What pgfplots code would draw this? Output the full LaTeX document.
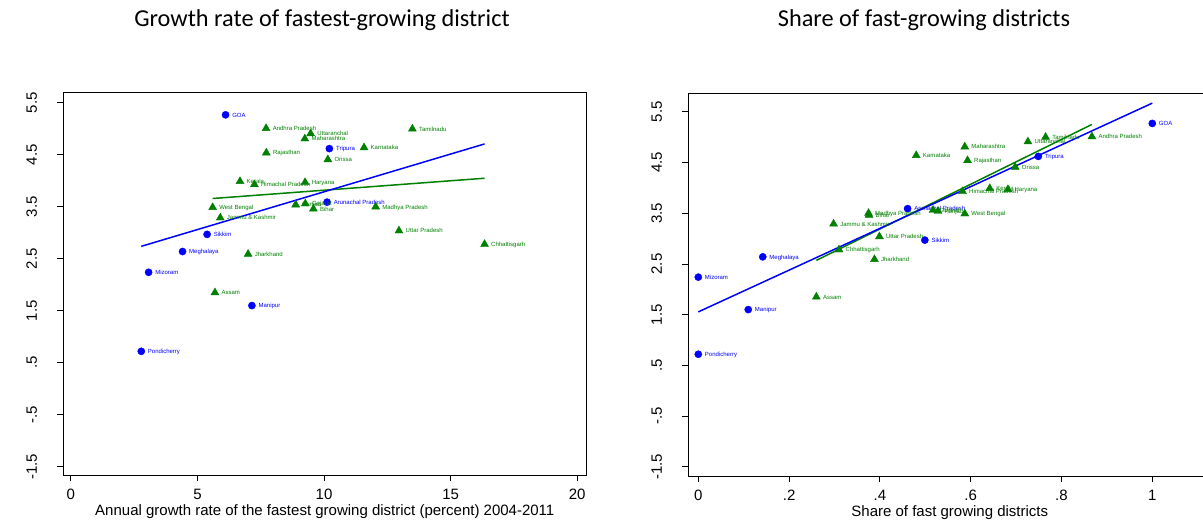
\documentclass[border=0pt]{standalone}
\usepackage{pgfplots}
\pgfplotsset{compat=1.18}
\usepackage{fontspec}
\setmainfont{Liberation Sans}
\newfontfamily\titlefont{Carlito}
\definecolor{sblue}{RGB}{0,0,255}
\definecolor{sgreen}{RGB}{0,128,0}
\pgfplotsset{
  stata/.style={
    scale only axis, width=523pt, height=382.5pt, anchor=south west,
    axis line style={line width=0.8pt, black},
    tick align=outside, xtick pos=bottom, ytick pos=left,
    major tick length=6pt,
    every tick/.style={black, line width=0.8pt},
    tick label style={font=\fontsize{15}{15}\selectfont},
    /pgf/number format/assume math mode=true,
    ytick={-1.5,-0.5,0.5,1.5,2.5,3.5,4.5,5.5},
    yticklabels={-1.5,-.5,.5,1.5,2.5,3.5,4.5,5.5},
    yticklabel style={rotate=90, anchor=base},
    xticklabel style={anchor=base},
    yticklabel shift=20.5pt,
    xticklabel shift=19pt,
    xlabel style={font=\fontsize{15}{15}\selectfont, at={(axis description cs:0.5,0)}, anchor=base, yshift=-41pt},
  },
  bpts/.style={only marks, mark=*, mark size=3.6pt, color=sblue,
    point meta=explicit symbolic, nodes near coords,
    every node near coord/.append style={anchor=base west, inner sep=0pt, xshift=6.5pt, yshift=-2.2pt, font=\fontsize{6}{6}\selectfont, text=sblue}},
  gpts/.style={only marks, mark=triangle*, mark size=4.6pt, color=sgreen,
    point meta=explicit symbolic, nodes near coords,
    every node near coord/.append style={anchor=base west, inner sep=0pt, xshift=6.5pt, yshift=-2.2pt, font=\fontsize{6}{6}\selectfont, text=sgreen}},
  bfit/.style={sblue, line width=1.5pt, no marks},
  gfit/.style={sgreen, line width=1.5pt, no marks},
}
\begin{document}
\begin{tikzpicture}
\useasboundingbox (0,0) rectangle (1203pt,524pt);
\clip (0,0) rectangle (1203pt,524pt);
% ---------------- left panel
\begin{axis}[stata, at={(63.3pt,49pt)},
  xmin=-0.30, xmax=20.36, ymin=-1.66, ymax=5.70,
  xtick={0,5,10,15,20},
  xlabel={Annual growth rate of the fastest growing district (percent) 2004-2011}]
\addplot[bpts] coordinates {
(6.11,5.27) [GOA]
(10.21,4.62) [Tripura]
(10.12,3.59) [Arunachal Pradesh]
(5.38,2.97) [Sikkim]
(4.41,2.64) [Meghalaya]
(3.07,2.24) [Mizoram]
(7.15,1.60) [Manipur]
(2.78,0.72) [Pondicherry]
};
\addplot[gpts] coordinates {
(7.71,5.01) [Andhra Pradesh]
(13.49,5.00) [Tamilnadu]
(9.47,4.91) [Uttaranchal]
(9.24,4.81) [Maharashtra]
(11.58,4.64) [Karnataka]
(7.72,4.54) [Rajasthan]
(10.15,4.41) [Orissa]
(6.68,3.99) [Kerala]
(9.25,3.97) [Haryana]
(7.25,3.93) [Himachal Pradesh]
(8.88,3.54) [Punjab]
(9.26,3.56) [Gujarat]
(12.04,3.50) [Madhya Pradesh]
(5.60,3.49) [West Bengal]
(9.58,3.46) [Bihar]
(5.90,3.29) [Jammu \& Kashmir]
(12.96,3.04) [Uttar Pradesh]
(16.34,2.78) [Chhattisgarh]
(7.00,2.59) [Jharkhand]
(5.69,1.85) [Assam]
};
\addplot[gfit] coordinates {(5.60,3.66) (16.34,4.05)};
\addplot[bfit] coordinates {(2.78,2.74) (16.34,4.71)};
\end{axis}
% ---------------- right panel
\begin{axis}[stata, at={(688.3pt,48pt)},
  xmin=-0.022, xmax=1.13, ymin=-1.68, ymax=5.86,
  xtick={0,0.2,0.4,0.6,0.8,1}, xticklabels={0,.2,.4,.6,.8,1},
  xlabel={Share of fast growing districts}]
\addplot[bpts] coordinates {
(1.0,5.27) [GOA]
(0.749,4.62) [Tripura]
(0.461,3.59) [Arunachal Pradesh]
(0.499,2.97) [Sikkim]
(0.142,2.64) [Meghalaya]
(0.0,2.24) [Mizoram]
(0.11,1.60) [Manipur]
(0.0,0.72) [Pondicherry]
};
\addplot[gpts] coordinates {
(0.867,5.01) [Andhra Pradesh]
(0.765,5.00) [Tamilnadu]
(0.726,4.91) [Uttaranchal]
(0.587,4.81) [Maharashtra]
(0.48,4.64) [Karnataka]
(0.593,4.54) [Rajasthan]
(0.698,4.41) [Orissa]
(0.642,3.99) [Kerala]
(0.682,3.97) [Haryana]
(0.582,3.93) [Himachal Pradesh]
(0.517,3.56) [Gujarat]
(0.528,3.54) [Punjab]
(0.375,3.50) [Madhya Pradesh]
(0.587,3.49) [West Bengal]
(0.376,3.46) [Bihar]
(0.298,3.29) [Jammu \& Kashmir]
(0.399,3.04) [Uttar Pradesh]
(0.31,2.78) [Chhattisgarh]
(0.388,2.59) [Jharkhand]
(0.26,1.85) [Assam]
};
\addplot[gfit] coordinates {(0.26,2.57) (0.867,5.25)};
\addplot[bfit] coordinates {(0.0,1.555) (1.0,5.67)};
\end{axis}
% ---------------- titles
\node[font=\titlefont\fontsize{24.3}{24.3}\selectfont, anchor=base] at (322pt,497pt) {Growth rate of fastest-growing district};
\node[font=\titlefont\fontsize{24.3}{24.3}\selectfont, anchor=base] at (924pt,497pt) {Share of fast-growing districts};
\end{tikzpicture}
\end{document}
